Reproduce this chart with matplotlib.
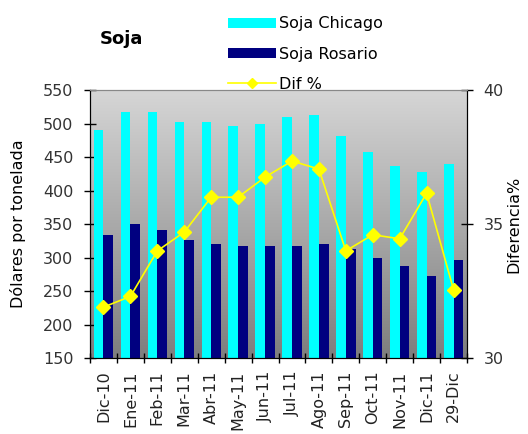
import numpy as np
import matplotlib
matplotlib.use("Agg")
import matplotlib.pyplot as plt

plt.rcParams['font.family'] = ['DejaVu Sans']

# datos
meses = ['Dic-10', 'Ene-11', 'Feb-11', 'Mar-11', 'Abr-11', 'May-11', 'Jun-11',
         'Jul-11', 'Ago-11', 'Sep-11', 'Oct-11', 'Nov-11', 'Dic-11', '29-Dic']
chicago = [490, 517, 517, 503, 503, 497, 500, 509, 512, 481, 458, 437, 428, 440]
rosario = [333, 350, 341, 326, 320, 317, 317, 317, 320, 312, 300, 287, 272, 296]
dif = [31.9, 32.3, 34.0, 34.7, 36.0, 36.0, 36.75, 37.35, 37.05, 34.0, 34.6, 34.45, 36.15, 32.55]

fs = 11.5
fig = plt.figure(figsize=(5.28, 4.34), dpi=100)
ax = fig.add_axes([0.1705, 0.175, 0.714, 0.6176])

x = np.arange(len(meses))
w = 0.36

# fondo degradado
grad = np.linspace(0, 1, 256).reshape(-1, 1)
cmap = matplotlib.colors.LinearSegmentedColormap.from_list('g', ['#d6d6d6', '#7e7e7e'])
ax.imshow(grad, cmap=cmap, aspect='auto', extent=[0, 1, 0, 1], transform=ax.transAxes,
          zorder=0)

ax.bar(x - w / 2, chicago, width=w, color='#00ffff', label='Soja Chicago', zorder=2)
ax.bar(x + w / 2, rosario, width=w, color='#000080', label='Soja Rosario', zorder=2)

ax.set_xlim(-0.5, len(meses) - 0.5)
ax.set_ylim(150, 550)
ax.set_yticks(np.arange(150, 551, 50))
ax.set_xticks(x)
ax.set_xticklabels(meses, rotation=90, fontsize=fs, color='#222222')
ax.set_xticks(np.arange(-0.5, len(meses), 1), minor=True)
ax.tick_params(axis='x', which='major', length=0, pad=9)
ax.tick_params(axis='x', which='minor', length=7, direction='inout', width=1)
ax.tick_params(axis='y', direction='inout', length=8, width=1, labelsize=fs,
               labelcolor='#333333', pad=8)
ax.set_ylabel('Dólares por tonelada', fontsize=fs, labelpad=12)
ax.spines['top'].set_color('#888888')

ax2 = ax.twinx()
ax2.plot(x, dif, color='#ffff00', marker='D', markersize=7, linewidth=1.2,
         label='Dif %', zorder=3)
ax2.set_ylim(30, 40)
ax2.set_yticks([30, 35, 40])
ax2.tick_params(axis='y', direction='inout', length=8, width=1, labelsize=fs,
                labelcolor='#333333', pad=8)
ax2.set_ylabel('Diferencia%', fontsize=fs, labelpad=2)
ax2.spines['top'].set_color('#888888')

fig.text(0.189, 0.898, 'Soja', fontsize=13, fontweight='bold', va='baseline')

h1, l1 = ax.get_legend_handles_labels()
h2, l2 = ax2.get_legend_handles_labels()
fig.legend(h1 + h2, l1 + l2, loc='upper left', bbox_to_anchor=(0.432, 0.962),
           frameon=False, fontsize=fs, handlelength=3.0, handleheight=0.62,
           labelspacing=0.95, handletextpad=0.2, borderaxespad=0, borderpad=0,
           markerscale=0.7)

fig.savefig('out.png', dpi=100)
